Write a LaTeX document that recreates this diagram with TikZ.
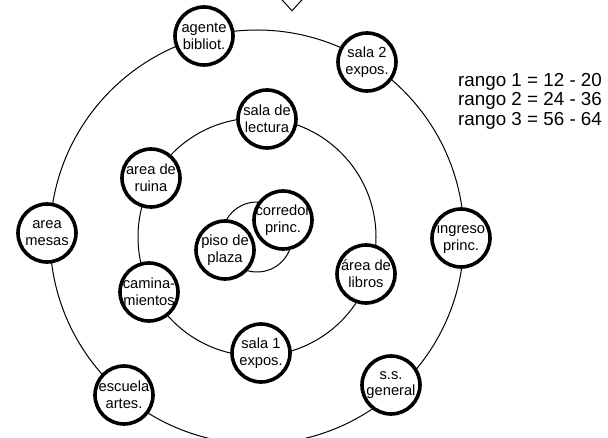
\documentclass[tikz,border=0pt]{standalone}
\usepackage{fontspec}
\setmainfont{Liberation Sans}
\usetikzlibrary{shapes.geometric}
\begin{document}
\begin{tikzpicture}[x=1pt,y=-1pt,
  sitio/.style={circle,draw,line width=3.6pt,fill=white,minimum size=58pt,inner sep=0pt},
  nombre/.style={align=center,font=\fontsize{14.7}{16.8}\selectfont,inner sep=0pt},
  anillo/.style={draw,line width=1pt}]
  \clip (0,0) rectangle (608,438);
  \coordinate (centro) at (257,237);
  % anillos
  \draw[anillo] (centro) circle[radius=35pt];
  \draw[anillo] (centro) circle[radius=119pt];
  \draw[anillo] (centro) circle[radius=207pt];
  \node[draw,diamond,minimum width=20pt,minimum height=22pt,inner sep=0pt,line width=1pt] (norte) at (292,0) {};
  % anillo 1
  \node[sitio,label={[nombre]center:{piso de\\plaza}}] (piso) at (225,250) {};
  \node[sitio,label={[nombre]center:{corredor\\princ.}}] (corredor) at (283,220) {};
  % anillo 2
  \node[sitio,label={[nombre]center:{sala de\\lectura}}] (lectura) at (267,119) {};
  \node[sitio,label={[nombre]center:{area de\\ruina}}] (ruina) at (151,178) {};
  \node[sitio,label={[nombre]center:{camina-\\mientos}}] (camina) at (149,292) {};
  \node[sitio,label={[nombre]center:{sala 1\\expos.}}] (sala1) at (261,353) {};
  \node[sitio,label={[nombre]center:{área de\\libros}}] (libros) at (366,274) {};
  % anillo 3
  \node[sitio,label={[nombre]center:{agente\\bibliot.}}] (agente) at (204,36) {};
  \node[sitio,label={[nombre]center:{sala 2\\expos.}}] (sala2) at (367,62) {};
  \node[sitio,label={[nombre]center:{ingreso\\princ.}}] (ingreso) at (461,238) {};
  \node[sitio,label={[nombre]center:{s.s.\\general}}] (ss) at (391,385) {};
  \node[sitio,label={[nombre]center:{escuela\\artes.}}] (escuela) at (124,395) {};
  \node[sitio,label={[nombre]center:{area\\mesas}}] (mesas) at (47,233) {};
  % rangos
  \node[anchor=base west,align=left,inner sep=0pt,font=\fontsize{18.8}{19.5}\selectfont] (rangos) at (458,125.5)
    {rango 1 = 12 - 20\\rango 2 = 24 - 36\\rango 3 = 56 - 64};
\end{tikzpicture}
\end{document}
